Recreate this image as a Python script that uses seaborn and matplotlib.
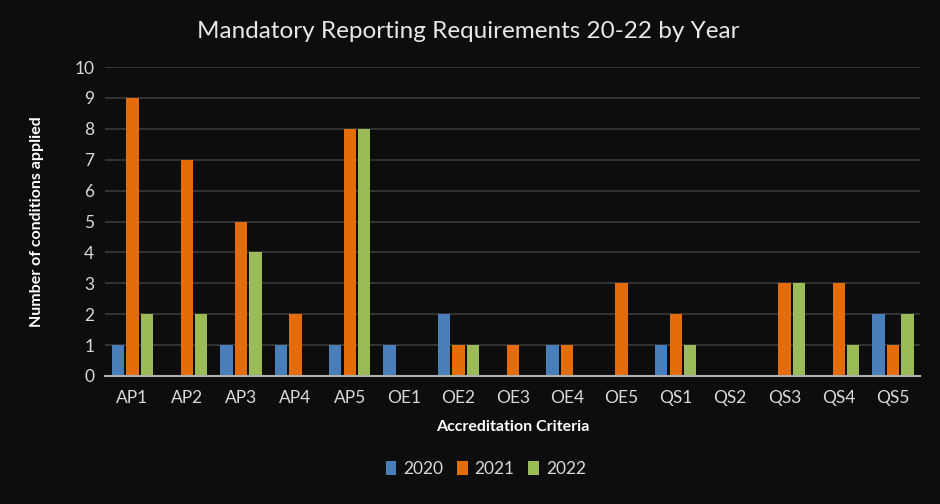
import matplotlib
matplotlib.use("Agg")
import matplotlib.pyplot as plt
import seaborn as sns
import pandas as pd

categories = ["AP1", "AP2", "AP3", "AP4", "AP5", "OE1", "OE2", "OE3", "OE4", "OE5",
              "QS1", "QS2", "QS3", "QS4", "QS5"]
years = ["2020", "2021", "2022"]
v2020 = [1, 0, 1, 1, 1, 1, 2, 0, 1, 0, 1, 0, 0, 0, 2]
v2021 = [9, 7, 5, 2, 8, 0, 1, 1, 1, 3, 2, 0, 3, 3, 1]
v2022 = [2, 2, 4, 0, 8, 0, 1, 0, 0, 0, 1, 0, 3, 1, 2]
yticks = list(range(0, 11))

rows = []
for y, vals in zip(years, [v2020, v2021, v2022]):
    for c, v in zip(categories, vals):
        rows.append({"Criteria": c, "Year": y, "Value": v})
df = pd.DataFrame(rows)

sns.set_theme(style="dark")
plt.rcParams['font.family'] = ['Lato', 'DejaVu Sans']
bg = "#0d0d0d"
palette = {"2020": "#4a7ebb", "2021": "#e46c0a", "2022": "#9bbb59"}

fig = plt.figure(figsize=(9.4, 5.04), dpi=100, facecolor=bg)
ax = fig.add_axes([0.112, 0.254, 0.867, 0.613])
ax.set_facecolor(bg)

sns.barplot(data=df, x="Criteria", y="Value", hue="Year", palette=palette,
            width=0.8, gap=0.15, ax=ax, legend=True, saturation=1, linewidth=0)

ax.set_ylim(0, 10)
ax.set_yticks(yticks)
ax.set_xlim(-0.5, len(categories) - 0.5)
ax.yaxis.grid(True, color="#3a3a3a", linewidth=1.2)
ax.set_axisbelow(True)
for s in ["top", "right", "left"]:
    ax.spines[s].set_visible(False)
ax.spines["bottom"].set_color("#b0b0b0")
ax.spines["bottom"].set_linewidth(1.5)
ax.tick_params(axis="both", colors="#d9d9d9", labelsize=12.5, length=0, pad=8)
ax.tick_params(axis="x", pad=10)

ax.set_xlabel("Accreditation Criteria", color="white", fontsize=11.5, fontweight="bold", labelpad=10)
ax.set_ylabel("Number of conditions applied", color="white", fontsize=11.5, fontweight="bold", labelpad=22)

fig.text(0.498, 0.937, "Mandatory Reporting Requirements 20-22 by Year", color="#e8e8e8",
         fontsize=17.5, ha="center", va="center")

leg = ax.legend(loc="center", bbox_to_anchor=(0.467, -0.30), ncol=3, frameon=False,
                fontsize=12.5, handlelength=0.6, handleheight=0.9, columnspacing=0.8,
                handletextpad=0.4)
for t in leg.get_texts():
    t.set_color("#d9d9d9")

fig.savefig("out.png", dpi=100, facecolor=bg)
